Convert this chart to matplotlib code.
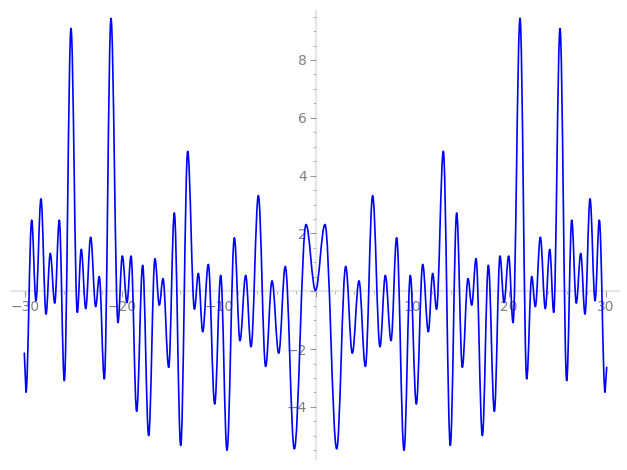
import matplotlib
matplotlib.use("Agg")
import matplotlib.pyplot as plt
import numpy as np
from matplotlib.path import Path
from matplotlib.patches import PathPatch
from matplotlib.ticker import MultipleLocator, FuncFormatter

# extrema of the curve for x >= 0 (curve is even)
x_right = [0.0, 0.98, 2.19, 3.12, 3.80, 4.49, 5.15, 5.90, 6.66, 7.21, 7.80,
           8.38, 9.14, 9.79, 10.41, 11.07, 11.65, 12.10, 12.50, 13.20, 13.92,
           14.58, 15.16, 15.75, 16.13, 16.58, 17.23, 17.85, 18.47, 19.05,
           19.47, 19.95, 20.40, 21.12, 21.81, 22.33, 22.70, 23.22, 23.73,
           24.19, 24.60, 25.25, 25.94, 26.46, 26.93, 27.39, 27.83, 28.35,
           28.87, 29.31, 29.90]
y_right = [0.03, 2.31, -5.45, 0.86, -2.14, 0.36, -2.60, 3.31, -1.92, 0.55,
           -1.71, 1.85, -5.50, 0.55, -3.90, 0.93, -1.40, 0.62, -0.62, 4.84,
           -5.33, 2.71, -2.63, 0.44, -0.48, 1.13, -4.99, 0.90, -4.15, 1.22,
           -0.39, 1.22, -1.08, 9.44, -3.03, 0.51, -0.53, 1.87, -0.60, 1.45,
           -0.73, 9.09, -3.09, 2.46, -0.41, 1.31, -0.79, 3.20, -0.33, 2.46,
           -3.49]
left_end = (-30.07, -2.14)
right_end = (30.07, -2.63)

xr = np.array(x_right)
yr = np.array(y_right)
xe = np.concatenate([-xr[:0:-1], xr])
ye = np.concatenate([yr[:0:-1], yr])

# smooth curve through the extrema: flat tangent at every peak/trough
verts = [left_end, (xe[0], ye[0])]
codes = [Path.MOVETO, Path.LINETO]
k = 0.364
for i in range(1, len(xe)):
    x0, y0, x1, y1 = xe[i - 1], ye[i - 1], xe[i], ye[i]
    dx = x1 - x0
    verts += [(x0 + k * dx, y0), (x1 - k * dx, y1), (x1, y1)]
    codes += [Path.CURVE4] * 3
verts.append(right_end)
codes.append(Path.LINETO)

fig = plt.figure(figsize=(6.27, 4.70), dpi=100)
ax = fig.add_axes([0.0198, 0.0234, 0.9668, 0.9536])

curve = PathPatch(Path(verts, codes), facecolor="none", edgecolor="blue",
                  linewidth=1.2, joinstyle="round", capstyle="round", zorder=3)
ax.add_patch(curve)

ax.set_xlim(-31.3, 31.3)
ax.set_ylim(-5.8, 9.7)

axis_gray = "#e6e6e6"
for side in ["top", "right"]:
    ax.spines[side].set_visible(False)
ax.spines["left"].set_position(("data", 0))
ax.spines["bottom"].set_position(("data", 0))
for side in ["left", "bottom"]:
    ax.spines[side].set_color(axis_gray)
    ax.spines[side].set_linewidth(1.6)
    ax.spines[side].set_zorder(1)

hide_zero = FuncFormatter(lambda v, p: "" if abs(v) < 1e-9 else f"{v:.0f}".replace("-", "\u2212"))
ax.xaxis.set_major_locator(MultipleLocator(10))
ax.xaxis.set_minor_locator(MultipleLocator(2))
ax.yaxis.set_major_locator(MultipleLocator(2))
ax.yaxis.set_minor_locator(MultipleLocator(0.5))
ax.xaxis.set_major_formatter(hide_zero)
ax.yaxis.set_major_formatter(hide_zero)

ax.tick_params(which="major", direction="out", length=4, width=0.8,
               color="#999999", labelcolor="#808080", labelsize=10, pad=2)
ax.tick_params(which="minor", direction="out", length=2, width=0.6,
               color="#aaaaaa")

fig.savefig("out.png", dpi=100)
